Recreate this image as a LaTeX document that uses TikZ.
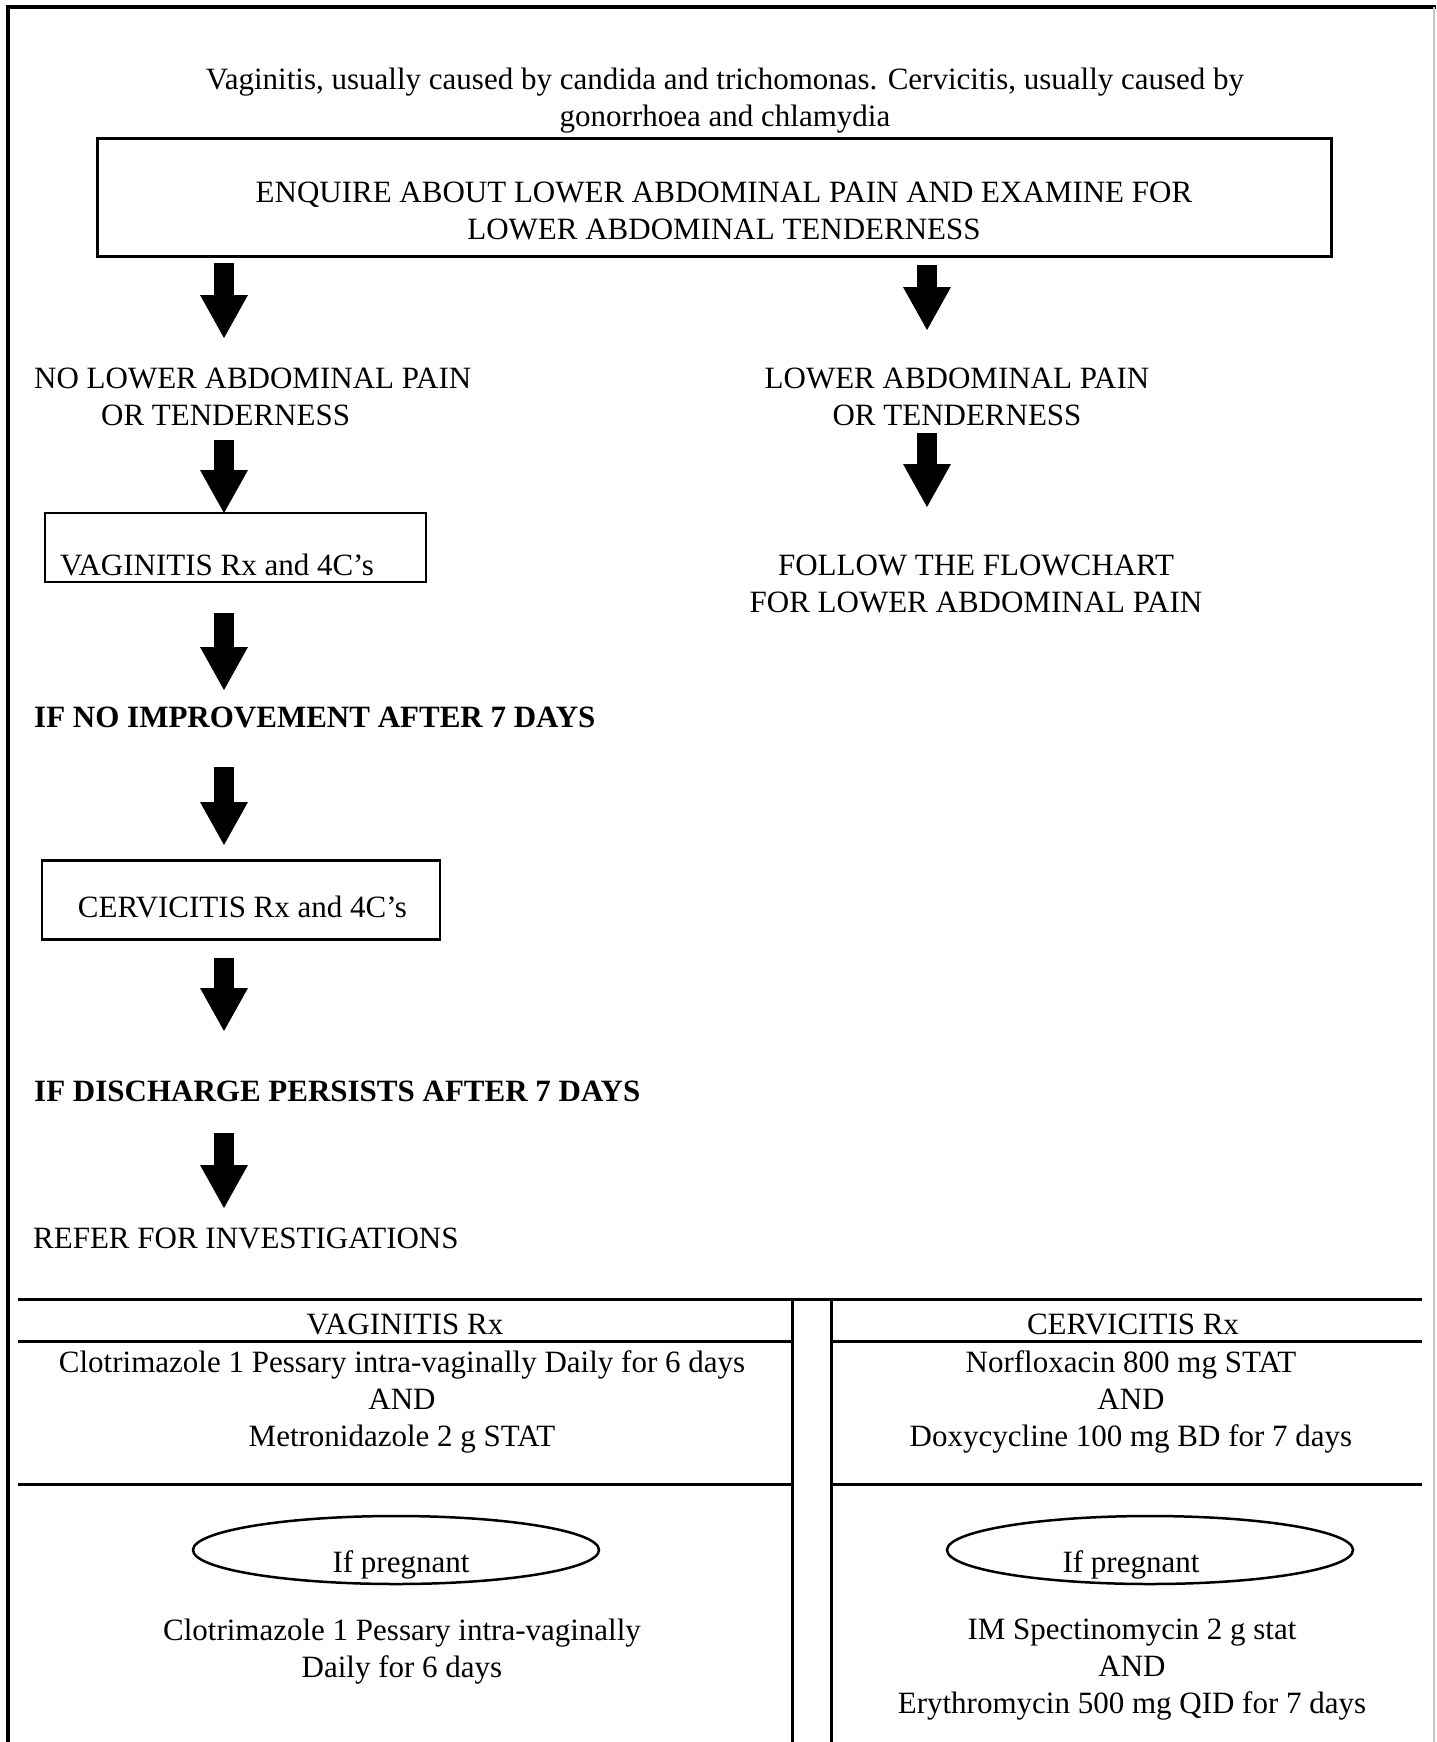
\documentclass[tikz,border=0pt]{standalone}
\usepackage{fontspec}
\setmainfont{Liberation Serif}
\usetikzlibrary{arrows.meta,shapes.geometric}
\begin{document}
\begin{tikzpicture}[x=1pt,y=-1pt,
  every node/.style={font=\fontsize{31}{37}\selectfont, inner sep=0pt},
  txt/.style={align=center},
  bold/.style={font=\fontsize{31}{37}\selectfont\bfseries},
  boxed/.style={draw, line width=3pt, rectangle},
  oval/.style={draw, ellipse, line width=2.5pt, minimum width=406pt, minimum height=68pt},
  barrow/.style={line width=20pt, -{Triangle[width=48pt,length=43pt,line width=0pt]}},
  rule/.style={line width=3pt}
]
\useasboundingbox (0,0) rectangle (1436,1742);
% frame
\draw[line width=4pt] (8,1742) -- (8,7) -- (1436,7);
\draw[gray!45, line width=1.5pt] (1434,7) -- (1434,1742);

% title
\node[txt] (title) at (725,101) {Vaginitis, usually caused by candida and trichomonas. Cervicitis, usually caused by\\gonorrhoea and chlamydia};

% enquire box
\node[boxed, minimum width=1234pt, minimum height=117pt] (enq) at (714,197.5) {};
\node[txt] (enqt) at (724,211) {ENQUIRE ABOUT LOWER ABDOMINAL PAIN AND EXAMINE FOR\\LOWER ABDOMINAL TENDERNESS};

% left branch
\node[align=left, anchor=west] (noabd) at (34,396.5) {NO LOWER ABDOMINAL PAIN\\\hspace*{67pt}OR TENDERNESS};
\node[boxed, line width=2.5pt, minimum width=381pt, minimum height=69pt] (vag) at (235.5,547.5) {};
\node[anchor=west] (vagt) at (60,565) {VAGINITIS Rx and 4C's};
\node[bold, anchor=west] (noimp) at (34,717) {IF NO IMPROVEMENT AFTER 7 DAYS};
\node[boxed, line width=2.5pt, minimum width=398pt, minimum height=79pt] (cerv) at (241,900) {};
\node (cervt) at (242.5,907) {CERVICITIS Rx and 4C's};
\node[bold, anchor=west] (disch) at (34,1091) {IF DISCHARGE PERSISTS AFTER 7 DAYS};
\node[anchor=west] (refer) at (33,1238) {REFER FOR INVESTIGATIONS};

% right branch
\node[txt] (abd) at (957,396.5) {LOWER ABDOMINAL PAIN\\OR TENDERNESS};
\node[txt] (follow) at (976,583.5) {FOLLOW THE FLOWCHART\\FOR LOWER ABDOMINAL PAIN};

% arrows
\coordinate (l1s) at (224,263); \coordinate (l1e) at (224,338);
\coordinate (l2s) at (224,440); \coordinate (l2e) at (224,513);
\coordinate (l3s) at (224,613); \coordinate (l3e) at (224,690);
\coordinate (l4s) at (224,767); \coordinate (l4e) at (224,845);
\coordinate (l5s) at (224,958); \coordinate (l5e) at (224,1031);
\coordinate (l6s) at (224,1133); \coordinate (l6e) at (224,1208);
\coordinate (r1s) at (927,265); \coordinate (r1e) at (927,330);
\coordinate (r2s) at (927,433); \coordinate (r2e) at (927,507);
\draw[barrow] (l1s) -- (l1e);
\draw[barrow] (l2s) -- (l2e);
\draw[barrow] (l3s) -- (l3e);
\draw[barrow] (l4s) -- (l4e);
\draw[barrow] (l5s) -- (l5e);
\draw[barrow] (l6s) -- (l6e);
\draw[barrow] (r1s) -- (r1e);
\draw[barrow] (r2s) -- (r2e);

% table
\draw[rule] (18,1299) -- (1422,1299);
\draw[rule] (18,1341) -- (792,1341);
\draw[rule] (831,1341) -- (1422,1341);
\draw[rule] (18,1484) -- (792,1484);
\draw[rule] (831,1484) -- (1422,1484);
\draw[rule] (792,1299) -- (792,1742);
\draw[rule] (831,1299) -- (831,1742);

\node (vagrx) at (405,1324) {VAGINITIS Rx};
\node (cervrx) at (1133,1324) {CERVICITIS Rx};
\node[txt] (vagtx) at (402,1402) {Clotrimazole 1 Pessary intra-vaginally Daily for 6 days\\AND\\Metronidazole 2 g STAT};
\node[txt] (cervtx) at (1131,1402) {Norfloxacin 800 mg STAT\\AND\\Doxycycline 100 mg BD for 7 days};

\node[oval] (ovl) at (396,1550) {};
\node[oval] (ovr) at (1150,1550) {};
\node (pregl) at (401,1565) {If pregnant};
\node (pregr) at (1131,1565) {If pregnant};

\node[txt] (vagp) at (402,1652) {Clotrimazole 1 Pessary intra-vaginally\\Daily for 6 days};
\node[txt] (cervp) at (1132,1670) {IM Spectinomycin 2 g stat\\AND\\Erythromycin 500 mg QID for 7 days};
\end{tikzpicture}
\end{document}
